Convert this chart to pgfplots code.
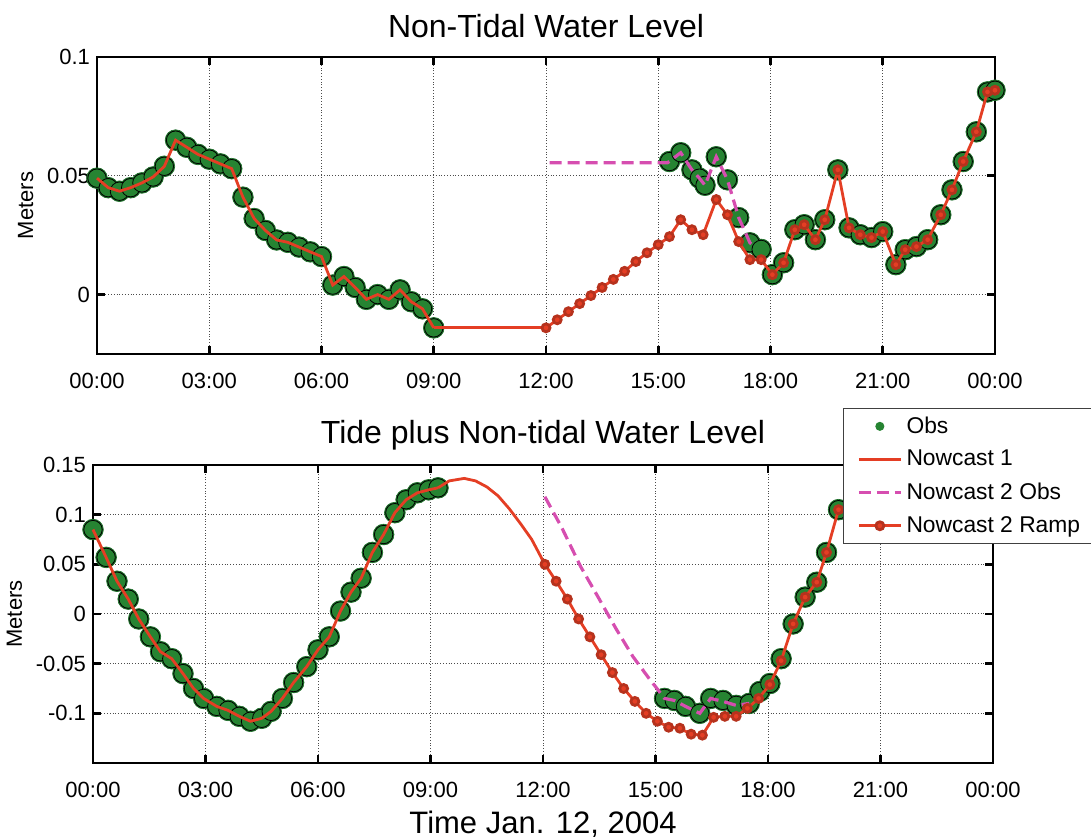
\documentclass[border=0pt]{standalone}
\usepackage{fontspec}
\setmainfont{Liberation Sans}
\usepackage{pgfplots}
\usepackage{pgfplotstable}
\pgfplotsset{compat=1.18}

\definecolor{obsgreen}{RGB}{38,132,50}
\definecolor{obsedge}{RGB}{28,108,40}
\definecolor{ncred}{RGB}{228,62,36}
\definecolor{ncmag}{RGB}{214,78,176}

% ---- top panel: non-tidal water level (hours, meters)
\pgfplotstableread{
h y
0.0 0.049
0.3 0.045
0.6 0.0435
0.9 0.045
1.2 0.047
1.5 0.0495
1.8 0.054
2.1 0.065
2.4 0.062
2.7 0.059
3.0 0.057
3.3 0.055
3.6 0.053
3.9 0.041
4.2 0.032
4.5 0.027
4.8 0.023
5.1 0.022
5.4 0.020
5.7 0.018
6.0 0.016
6.3 0.004
6.6 0.0076
6.9 0.003
7.2 -0.002
7.5 0.0
7.8 -0.002
8.1 0.002
8.4 -0.003
8.7 -0.006
9.0 -0.014
}\topobsA
\pgfplotstableread{
h y
15.3 0.056
15.6 0.0597
15.9 0.0525
16.1 0.049
16.25 0.046
16.55 0.058
16.85 0.0483
17.15 0.0324
17.45 0.0218
17.75 0.019
18.05 0.0084
18.35 0.0134
18.65 0.0273
18.9 0.0294
19.2 0.0231
19.45 0.0315
19.8 0.0525
20.1 0.0281
20.4 0.0252
20.7 0.024
21.0 0.0265
21.35 0.0126
21.6 0.0189
21.9 0.0202
22.2 0.0231
22.55 0.0336
22.85 0.0441
23.15 0.056
23.5 0.0685
23.8 0.0853
24.0 0.086
}\topobsB
\pgfplotstableread{
h y
12.0 -0.014
12.3 -0.0106
12.6 -0.0072
12.9 -0.0038
13.2 -0.0004
13.5 0.003
13.8 0.0064
14.1 0.0098
14.4 0.0139
14.7 0.0176
15.0 0.021
15.3 0.0244
15.6 0.0315
15.9 0.0273
16.2 0.0252
16.55 0.040
16.85 0.0336
17.15 0.0223
17.45 0.0147
17.75 0.0147
18.05 0.0084
18.35 0.0134
18.65 0.0273
18.9 0.0294
19.2 0.0231
19.45 0.0315
19.8 0.0525
20.1 0.0281
20.4 0.0252
20.7 0.024
21.0 0.0265
21.35 0.0126
21.6 0.0189
21.9 0.0202
22.2 0.0231
22.55 0.0336
22.85 0.0441
23.15 0.056
23.5 0.0685
23.8 0.0853
24.0 0.086
}\topramp
\pgfplotstableread{
h y
12.1 0.0555
15.25 0.0555
15.6 0.0597
15.9 0.0525
16.1 0.049
16.25 0.046
16.55 0.058
16.85 0.0483
17.15 0.0324
17.45 0.0218
17.6 0.020
}\topmag

% ---- bottom panel: tide plus non-tidal
\pgfplotstableread{
h y
0.0 0.085
0.35 0.057
0.64 0.033
0.94 0.015
1.22 -0.005
1.53 -0.023
1.8 -0.038
2.1 -0.045
2.4 -0.060
2.68 -0.075
2.95 -0.085
3.3 -0.093
3.6 -0.097
3.9 -0.103
4.2 -0.108
4.5 -0.105
4.75 -0.098
5.05 -0.085
5.35 -0.069
5.7 -0.053
6.0 -0.036
6.3 -0.023
6.6 0.003
6.88 0.022
7.15 0.036
7.45 0.062
7.75 0.080
8.05 0.102
8.35 0.115
8.65 0.122
8.95 0.125
9.2 0.127
}\botobsA
\pgfplotstableread{
h y
15.24 -0.085
15.5 -0.087
15.8 -0.093
16.18 -0.100
16.47 -0.085
16.8 -0.087
17.15 -0.092
17.5 -0.090
17.78 -0.078
18.05 -0.070
18.35 -0.045
18.67 -0.010
18.99 0.017
19.3 0.032
19.56 0.062
19.88 0.105
}\botobsB
\pgfplotstableread{
h y
9.2 0.127
9.5 0.134
9.9 0.1365
10.2 0.134
10.5 0.128
10.8 0.119
11.1 0.106
11.4 0.091
11.7 0.075
12.05 0.050
}\botnc
\pgfplotstableread{
h y
12.05 0.050
12.35 0.033
12.65 0.015
12.95 -0.005
13.25 -0.023
13.55 -0.041
13.85 -0.059
14.15 -0.075
14.45 -0.088
14.75 -0.100
15.05 -0.108
15.35 -0.114
15.65 -0.115
15.95 -0.121
16.25 -0.122
16.55 -0.104
16.85 -0.103
17.15 -0.103
17.45 -0.095
17.75 -0.085
18.05 -0.071
18.35 -0.047
18.67 -0.010
18.99 0.017
19.3 0.032
19.56 0.062
19.88 0.105
}\botramp
\pgfplotstableread{
h y
12.05 0.118
12.5 0.087
13.0 0.048
13.5 0.015
13.95 -0.015
14.4 -0.043
14.85 -0.066
15.1 -0.078
15.24 -0.085
15.5 -0.087
15.8 -0.093
16.18 -0.100
16.47 -0.085
16.8 -0.088
17.15 -0.092
17.5 -0.090
}\botmag

\pgfplotsset{
  panel/.style={
    scale only axis,
    anchor=south west,
    xmin=0, xmax=24,
    xtick={0,3,...,24},
    xticklabels={00:00,03:00,06:00,09:00,12:00,15:00,18:00,21:00,00:00},
    grid=major,
    major grid style={densely dotted, black!70, line width=0.5pt},
    axis line style={line width=1.3pt},
    tick style={line width=1.3pt, black},
    major tick length=4pt,
    tick align=inside,
    ticklabel style={font=\fontsize{11}{13}\selectfont},
    xticklabel style={yshift=-6pt},
    ylabel={Meters},
    ylabel style={font=\fontsize{11}{13}\selectfont},
    title style={font=\fontsize{16}{19}\selectfont},
    clip=false,
    clip marker paths=true,
    legend image code/.code={\draw[mark repeat=2,mark phase=2,#1] plot coordinates {(0cm,0cm) (0.37cm,0cm) (0.74cm,0cm)};},
  },
  % obs: dark-rimmed circles, refilled so that overlapping ones merge into a band
  obs/.style={only marks, mark=*, mark size=5.2pt, mark options={fill=obsedge, draw=obsedge, line width=0.3pt},
    legend image code/.code={\fill[obsgreen] (0.37cm,0cm) circle (2pt);}},
  obsfill/.style={only marks, mark=*, mark size=4.6pt, mark options={fill=obsgreen, draw=none}, forget plot},
  nc1/.style={ncred, line width=1.4pt, no markers},
  nc2obs/.style={ncmag, line width=1.6pt, dash pattern=on 6pt off 3pt, no markers},
  nc2ramp/.style={ncred, line width=1.4pt, mark=*, mark size=2pt, mark options={fill=ncred, draw=ncred!80!black, solid}},
}

\begin{document}
\begin{tikzpicture}
\begin{axis}[panel,
  at={(48.5pt,242.5pt)}, width=449pt, height=148.5pt,
  ymin=-0.025, ymax=0.1,
  ytick={0,0.05,0.1}, yticklabels={0,0.05,0.1},
  title={Non-Tidal Water Level}]
  \addplot[obs] table[x=h,y=y] {\topobsA};
  \addplot[obs] table[x=h,y=y] {\topobsB};
  \addplot[obsfill] table[x=h,y=y] {\topobsA};
  \addplot[obsfill] table[x=h,y=y] {\topobsB};
  \addplot[nc1] table[x=h,y=y] {\topobsA};
  \addplot[nc1] coordinates {(9.0,-0.014) (12.0,-0.014)};
  \addplot[nc2obs] table[x=h,y=y] {\topmag};
  \addplot[nc2ramp] table[x=h,y=y] {\topramp};
\end{axis}

\begin{axis}[panel,
  at={(46.5pt,38pt)}, width=450pt, height=149pt,
  ymin=-0.15, ymax=0.15,
  ytick={-0.1,-0.05,0,0.05,0.1,0.15}, yticklabels={-0.1,-0.05,0,0.05,0.1,0.15},
  title={Tide plus Non-tidal Water Level},
  title style={yshift=-2pt},
  xlabel={Time Jan. 12, 2004},
  xlabel style={font=\fontsize{15.5}{18}\selectfont},
  legend style={at={(0.833,1.191)}, anchor=north west,
    font=\fontsize{11.4}{13}\selectfont, draw=black!75, line width=0.5pt,
    fill=white, cells={anchor=west}, row sep=3pt, inner xsep=7pt}]
  \addplot[obs] table[x=h,y=y] {\botobsA};
  \addlegendentry{Obs}
  \addplot[obs, forget plot] table[x=h,y=y] {\botobsB};
  \addplot[obsfill] table[x=h,y=y] {\botobsA};
  \addplot[obsfill] table[x=h,y=y] {\botobsB};
  \addplot[nc1] table[x=h,y=y] {\botobsA};
  \addlegendentry{Nowcast 1}
  \addplot[nc1, forget plot] table[x=h,y=y] {\botnc};
  \addplot[nc2obs] table[x=h,y=y] {\botmag};
  \addlegendentry{Nowcast 2 Obs}
  \addplot[nc2ramp] table[x=h,y=y] {\botramp};
  \addlegendentry{Nowcast 2 Ramp}
\end{axis}
\pgfresetboundingbox
\useasboundingbox (0,0) rectangle (545.5pt,419.5pt);
\end{tikzpicture}
\end{document}
